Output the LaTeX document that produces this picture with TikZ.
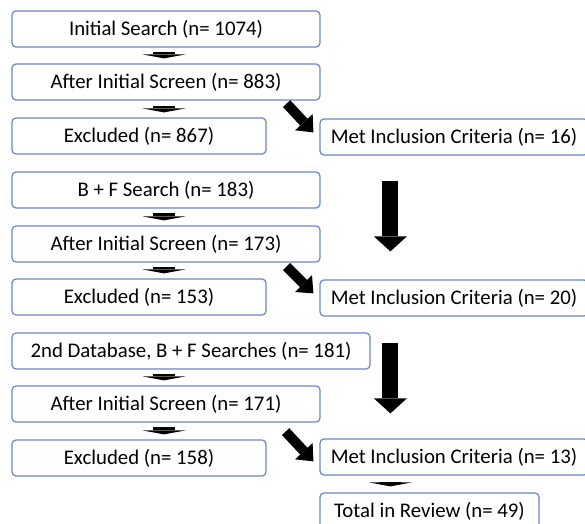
\documentclass[tikz,border=0pt]{standalone}
\usepackage{fontspec}
\setmainfont{Carlito}
\usetikzlibrary{arrows.meta,calc}
\definecolor{boxline}{RGB}{104,134,196}
\begin{document}
\begin{tikzpicture}[x=0.75pt,y=-0.75pt,
  box/.style={draw=boxline,line width=0.9pt,rounded corners=3pt,fill=white,
    inner sep=0pt,minimum height=27pt,font=\fontsize{15.6}{18}\selectfont,anchor=center},
  wbox/.style={box,minimum width=231pt},
  ebox/.style={box,minimum width=190.5pt},
  mbox/.style={box,minimum width=201pt},
  smallarrow/.style={line width=16.5pt,-{Triangle[width=32.25pt,length=3pt,line width=0pt]}},
  diagarrow/.style={line width=7.5pt,-{Triangle[width=18pt,length=10.5pt,line width=0pt]}},
  bigarrow/.style={line width=12pt,-{Triangle[width=24.75pt,length=11.25pt,line width=0pt]}}
]
\useasboundingbox (0,0) rectangle (585,524);
\begin{scope}
\clip (0,0) rectangle (585,524);
% first round
\node[wbox] (b1) at (166,29) {Initial Search (n= 1074)};
\node[wbox] (b2) at (166,82) {After Initial Screen (n= 883)};
\node[ebox] (e1) at (139,136) {Excluded (n= 867)};
\node[mbox] (m1) at (454,137) {Met Inclusion Criteria (n= 16)};
% second round
\node[wbox] (b3) at (166,190) {B + F Search (n= 183)};
\node[wbox] (b4) at (166,244) {After Initial Screen (n= 173)};
\node[ebox] (e2) at (139,297) {Excluded (n= 153)};
\node[mbox] (m2) at (454,298) {Met Inclusion Criteria (n= 20)};
% third round
\node[box,minimum width=268.5pt] (b5) at (191,351) {2nd Database, B + F Searches (n= 181)};
\node[wbox] (b6) at (166,404) {After Initial Screen (n= 171)};
\node[ebox] (e3) at (139,458) {Excluded (n= 158)};
\node[mbox] (m3) at (454,457) {Met Inclusion Criteria (n= 13)};
\node[box,minimum width=164.25pt] (t) at (429.5,511) {Total in Review (n= 49)};
% small arrows
\draw[smallarrow] ($(b1.south)+(-2,4)$) -- ($(b2.north)+(-2,-5)$);
\draw[smallarrow] ($(b2.south)+(-2,5)$) -- ($(e1.north)+(25,-5)$);
\draw[smallarrow] ($(b3.south)+(-2,4)$) -- ($(b4.north)+(-2,-5)$);
\draw[smallarrow] ($(b4.south)+(-2,4)$) -- ($(e2.north)+(25,-5)$);
\draw[smallarrow] ($(b5.south)+(-27,4)$) -- ($(b6.north)+(-2,-5)$);
\draw[smallarrow] ($(b6.south)+(-2,4)$) -- ($(e3.north)+(25,-5)$);
\draw[smallarrow] ($(m3.south west)+(71,6)$) -- ($(t.north west)+(71,-6)$);
% diagonal arrows
\draw[diagarrow] ($(b2.south east)+(-34,3)$) -- ($(m1.north west)+(-6,14)$);
\draw[diagarrow] ($(b4.south east)+(-34,4)$) -- ($(m2.north west)+(-6,14)$);
\draw[diagarrow] ($(b6.south east)+(-35,9)$) -- ($(m3.north west)+(-6,23)$);
% big arrows
\draw[bigarrow] ($(m1.south west)+(71,25)$) -- ($(m2.north west)+(71,-28)$);
\draw[bigarrow] ($(m2.south west)+(71,26)$) -- ($(m3.north west)+(71,-25)$);
\end{scope}
\end{tikzpicture}
\end{document}
